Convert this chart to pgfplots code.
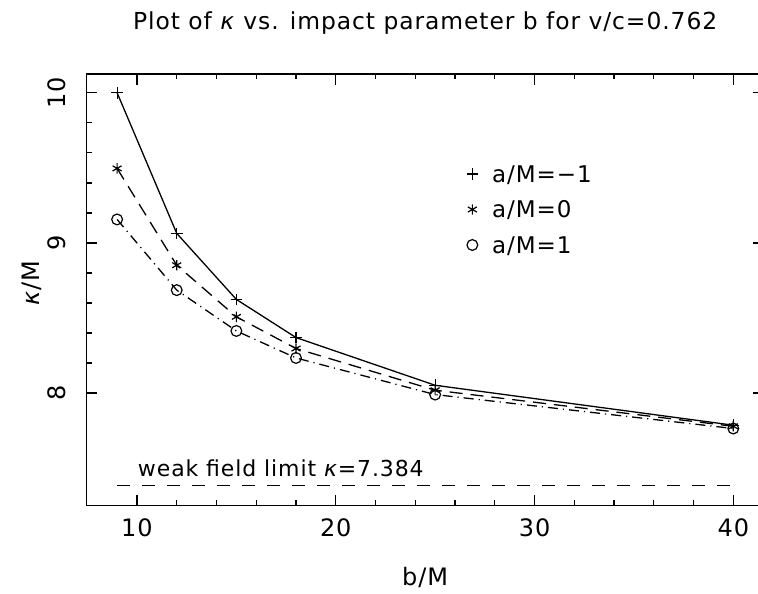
\documentclass[border=0pt]{standalone}
\usepackage{fontspec}
\setmainfont{DejaVu Sans}[LetterSpace=4]
\usepackage{pgfplots}
\pgfplotsset{compat=1.18}
\begin{document}
\begin{tikzpicture}
\useasboundingbox (-43.15pt,-43.75pt) rectangle (335.85pt,252.75pt);
\begin{axis}[
  at={(0pt,0pt)}, anchor=south west,
  scale only axis, width=338.9pt, height=215.75pt,
  xmin=7.45, xmax=41.55, ymin=7.25, ymax=10.125,
  xtick={10,20,30,40}, ytick={8,9,10},
  minor x tick num=4, minor y tick num=4,
  tick align=inside, tick pos=both,
  major tick length=5.5pt, minor tick length=2.75pt,
  axis line style={line width=0.75pt},
  every tick/.style={line width=0.7pt, black},
  /pgf/number format/assume math mode=true,
  ticklabel style={font=\fontsize{12}{14}\selectfont},
  xticklabel style={anchor=north, inner sep=0pt},
  xticklabel shift=6.25pt,
  yticklabel style={rotate=90, anchor=south, inner sep=0pt},
  yticklabel shift=10pt,
  every axis title shift=0pt,
  title={Plot of \textit{κ} vs. impact parameter b for v/c=0.762},
  title style={at={(axis description cs:0.5,1.102)}, anchor=base, inner sep=0pt, font=\fontsize{11.7}{14}\selectfont},
  xlabel={b/M},
  xlabel style={at={(axis description cs:0.5,-0.167)}, anchor=center, inner sep=0pt, font=\fontsize{12}{14}\selectfont},
  ylabel={\textit{κ}/M},
  ylabel style={at={(axis description cs:-0.080,0.516)}, anchor=center, inner sep=0pt, font=\fontsize{12}{14}\selectfont},
  legend style={at={(axis description cs:0.561,0.788)}, anchor=north west, draw=none, fill=none, inner sep=0pt, outer sep=0pt, row sep=9.25pt, column sep=7pt, font=\fontsize{11.5}{13}\selectfont, nodes={inner sep=0pt, text height=8.5pt, text depth=0pt}},
  legend cell align=left,
  legend image code/.code={\draw[#1,solid] plot[only marks] coordinates {(0pt,0pt)};},
]
\addplot[black, line width=0.65pt, mark=+, mark size=2.9pt, mark options={solid, line width=0.6pt}]
  coordinates {(9,10.0) (12,9.063) (15,8.623) (18,8.369) (25,8.051) (40,7.785)};
\addlegendentry{a/M=−1}
\addplot[black, line width=0.65pt, dash pattern=on 6.5pt off 4pt, mark=asterisk, mark size=2.6pt, mark options={solid, line width=0.6pt}]
  coordinates {(9,9.496) (12,8.851) (15,8.507) (18,8.296) (25,8.018) (40,7.778)};
\addlegendentry{a/M=0}
\addplot[black, line width=0.65pt, dash pattern=on 5pt off 2.5pt on 0.6pt off 2.5pt, mark=o, mark size=2.7pt, mark options={solid, line width=0.6pt}]
  coordinates {(9,9.156) (12,8.685) (15,8.413) (18,8.233) (25,7.989) (40,7.763)};
\addlegendentry{a/M=1}
\addplot[black, line width=0.65pt, dash pattern=on 6.5pt off 6pt, forget plot]
  coordinates {(9,7.384) (40,7.384)};
\node[anchor=base west, inner sep=0pt, font=\fontsize{11}{13}\selectfont] at (axis cs:10.03,7.443) {weak field limit \textit{κ}=7.384};
\end{axis}
\end{tikzpicture}
\end{document}
